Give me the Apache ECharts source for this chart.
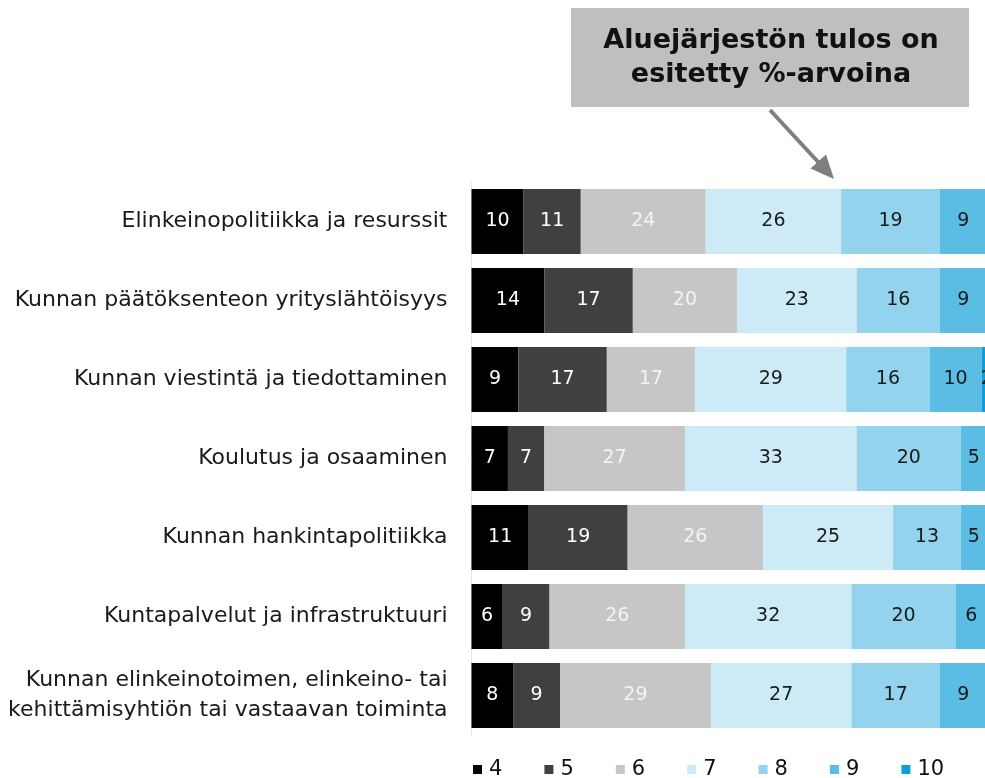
<!DOCTYPE html>
<html>
<head>
<meta charset="utf-8">
<script src="https://cdn.jsdelivr.net/npm/echarts@6/dist/echarts.min.js"></script>
<style>
  html, body { margin: 0; padding: 0; background: #fff; overflow: hidden; }
  /* the original picture is cropped on the right: the plot runs a few px past the window */
  #chart { width: 992px; height: 778px; }
</style>
</head>
<body>
<div id="chart"></div>
<script>
// Rows, top to bottom
const categories = [
  'Elinkeinopolitiikka ja resurssit',
  'Kunnan päätöksenteon yrityslähtöisyys',
  'Kunnan viestintä ja tiedottaminen',
  'Koulutus ja osaaminen',
  'Kunnan hankintapolitiikka',
  'Kuntapalvelut ja infrastruktuuri',
  'Kunnan elinkeinotoimen, elinkeino- tai\nkehittämisyhtiön tai vastaavan toiminta'
];

// Grade levels (legend)
const levels = ['4', '5', '6', '7', '8', '9', '10'];

// Shares (%) per level, one value per row
const grade4 = [10, 14, 9, 7, 11, 6, 8];
const grade5 = [11, 17, 17, 7, 19, 9, 9];
const grade6 = [24, 20, 17, 27, 26, 26, 29];
const grade7 = [26, 23, 29, 33, 25, 32, 27];
const grade8 = [19, 16, 16, 20, 13, 20, 17];
const grade9 = [9, 9, 10, 5, 5, 6, 9];
const grade10 = [1, 1, 2, 1, 1, 1, 1];

const seriesValues = [grade4, grade5, grade6, grade7, grade8, grade9, grade10];
const colors = ['#000000', '#404040', '#c6c6c6', '#cdebf7', '#93d3ee', '#5bbde4', '#0f9fd8'];
const labelColors = ['#ffffff', '#ffffff', '#f4f4f4', '#1a1a1a', '#1a1a1a', '#1a1a1a', '#1a1a1a'];

const FONT = '"DejaVu Sans", sans-serif';

const chart = echarts.init(document.getElementById('chart'));

const option = {
  animation: false,
  backgroundColor: '#ffffff',
  grid: { left: 471.5, right: 0, top: 182, bottom: 43, containLabel: false },
  xAxis: { type: 'value', min: 0, max: 100, show: false },
  yAxis: {
    type: 'category',
    inverse: true,
    data: categories,
    axisLine: { show: true, lineStyle: { color: '#e6e6e6', width: 1 } },
    axisTick: { show: false },
    axisLabel: {
      margin: 24,
      color: '#1a1a1a',
      fontFamily: FONT,
      fontSize: 22,
      lineHeight: 30,
      align: 'right'
    }
  },
  legend: levels.map((lv, i) => ({
    data: [lv],
    left: 468 + i * 71.4,
    top: 754,
    itemWidth: 9,
    itemHeight: 9,
    icon: 'rect',
    selectedMode: false,
    textStyle: { fontFamily: FONT, fontSize: 21, color: '#111', padding: [0, 0, 0, 2] }
  })),
  series: levels.map((lv, i) => ({
    name: lv,
    type: 'bar',
    stack: 'total',
    barWidth: 65,
    data: seriesValues[i],
    itemStyle: { color: colors[i] },
    label: {
      show: true,
      position: 'inside',
      color: labelColors[i],
      fontFamily: FONT,
      fontSize: 19
    }
  })),
  graphic: [
    {
      type: 'rect',
      shape: { x: 571, y: 8, width: 398, height: 99 },
      style: { fill: '#bfbfbf' }
    },
    {
      type: 'text',
      x: 771,
      y: 58,
      style: {
        text: 'Aluejärjestön tulos on\nesitetty %-arvoina',
        fill: '#111111',
        font: 'bold 27px ' + FONT,
        align: 'center',
        verticalAlign: 'middle',
        lineHeight: 34
      }
    },
    {
      type: 'line',
      shape: { x1: 770, y1: 110, x2: 820, y2: 164 },
      style: { stroke: '#7f7f7f', lineWidth: 4 }
    },
    {
      type: 'polygon',
      shape: { points: [[834, 179], [810.5, 168.5], [826, 154.5]] },
      style: { fill: '#7f7f7f' }
    }
  ]
};

chart.setOption(option);
window.addEventListener('resize', () => chart.resize());
</script>
</body>
</html>
